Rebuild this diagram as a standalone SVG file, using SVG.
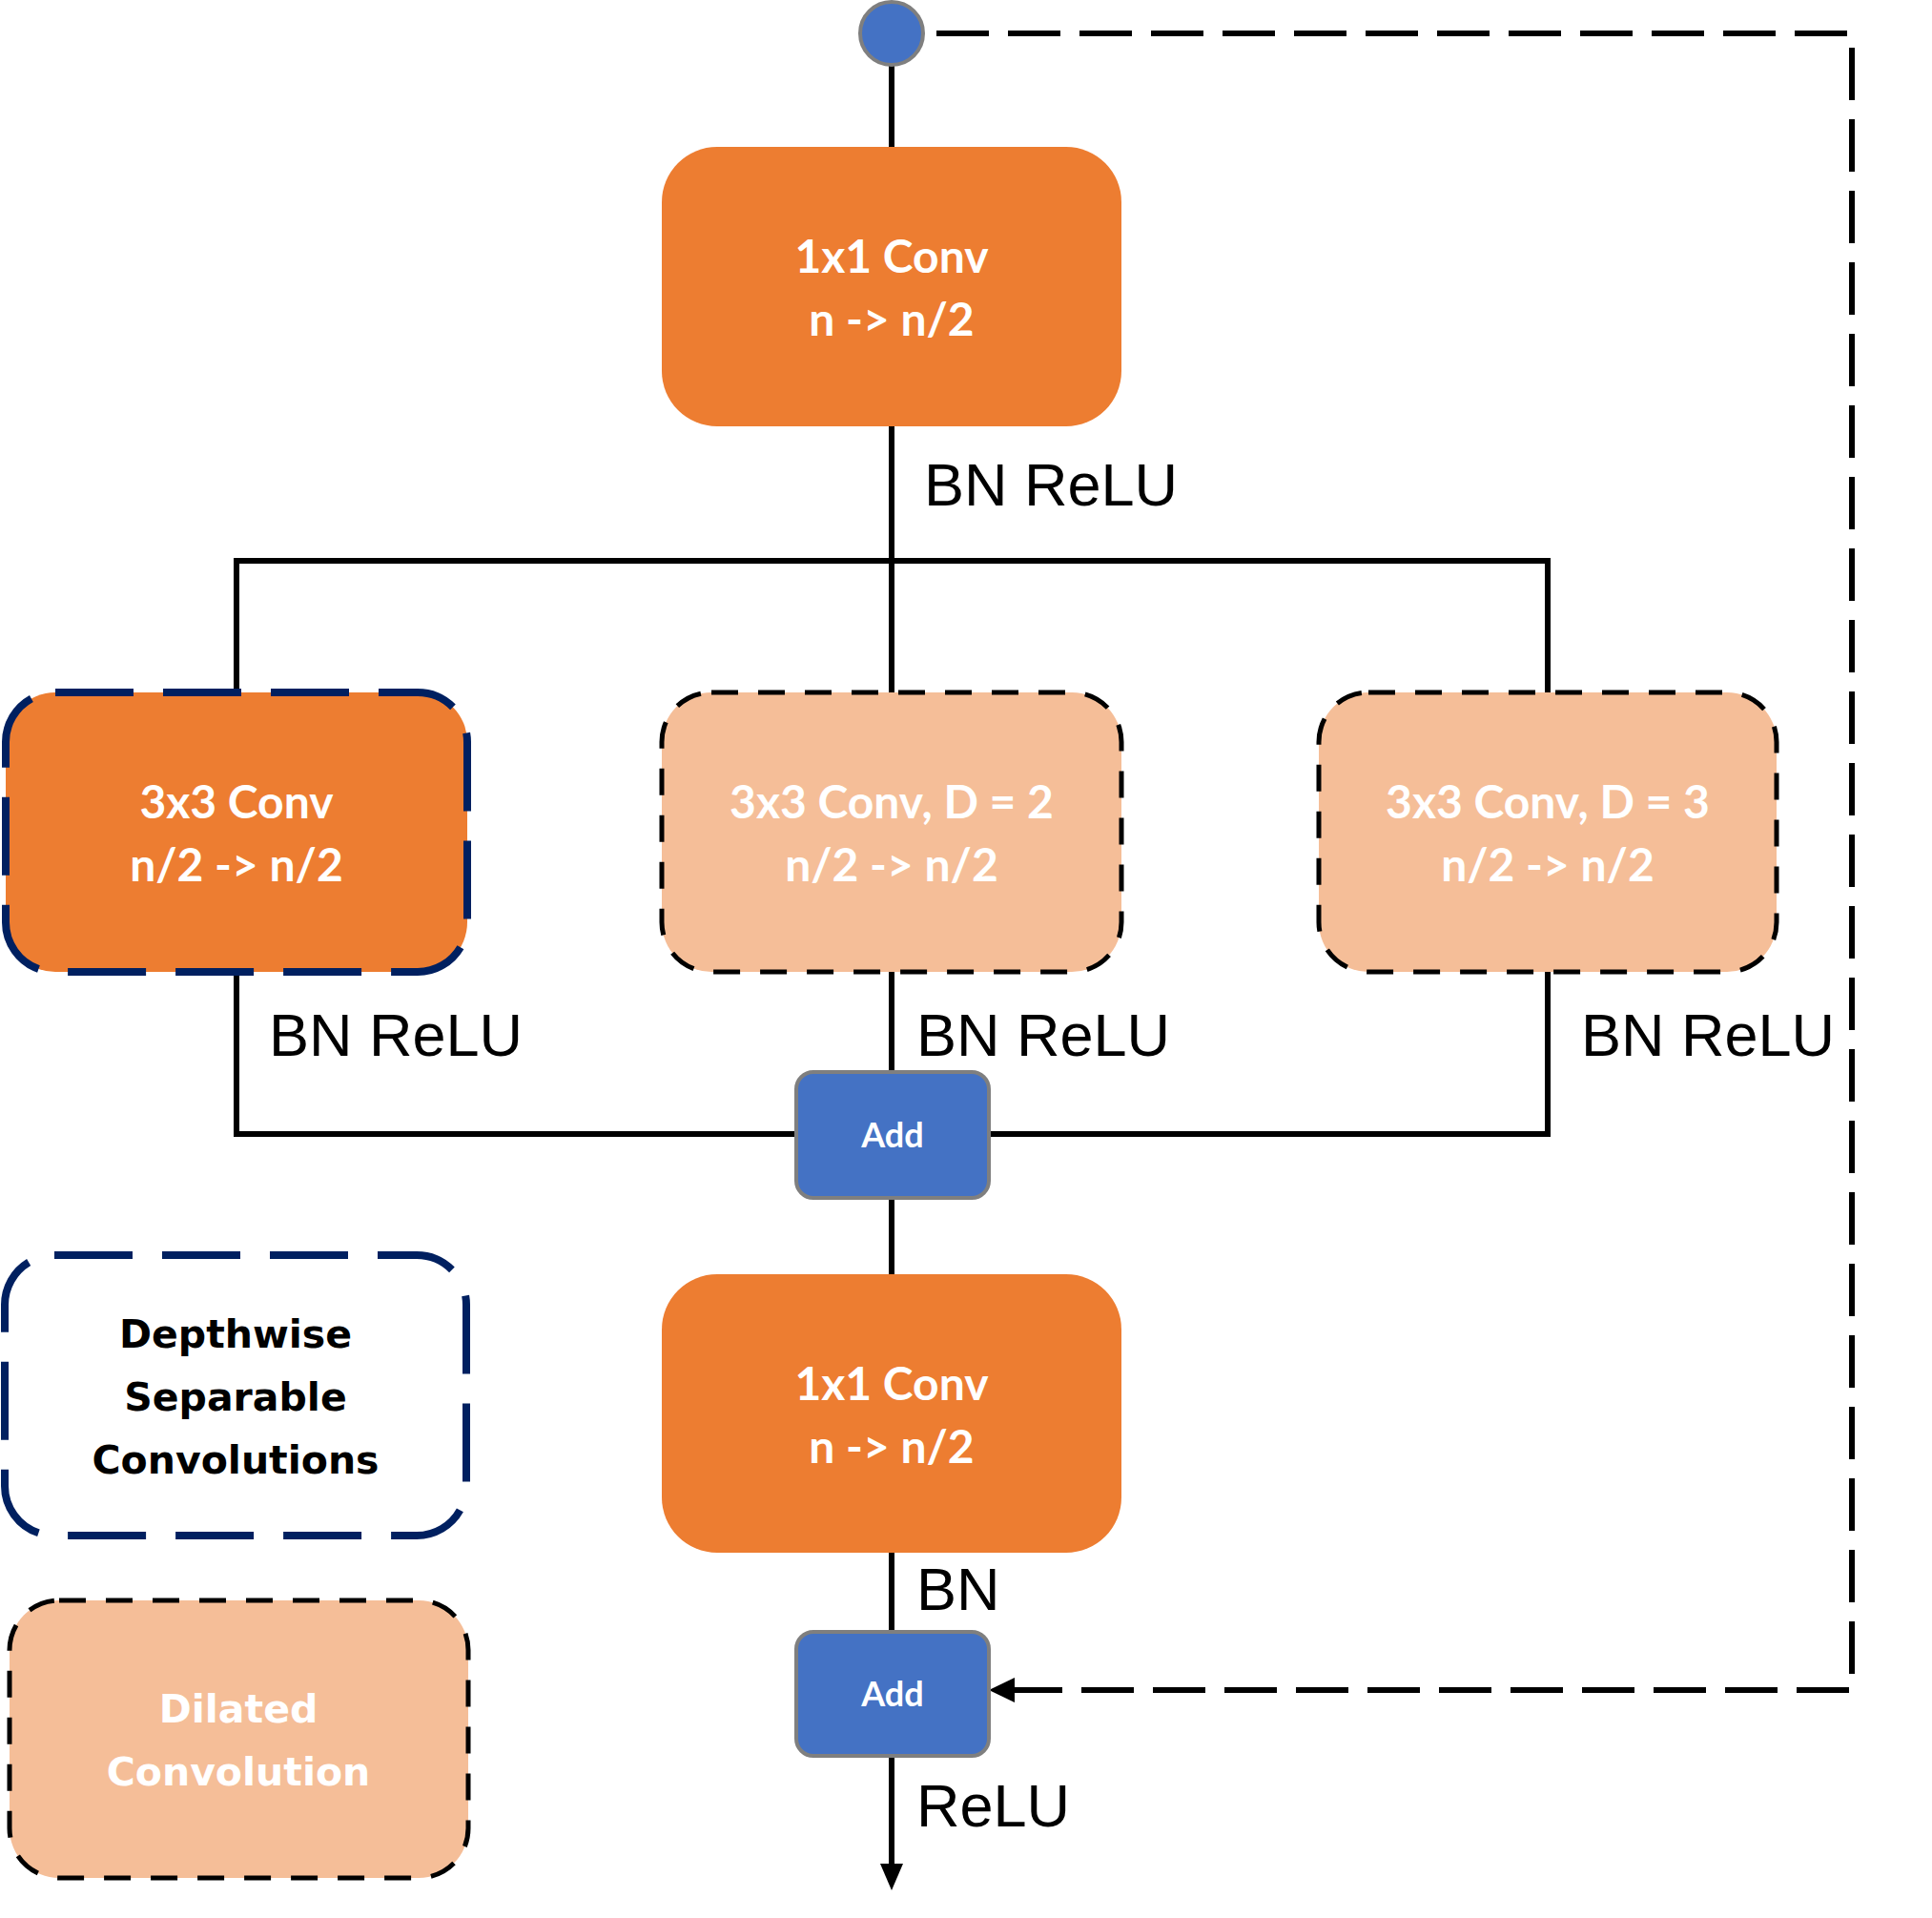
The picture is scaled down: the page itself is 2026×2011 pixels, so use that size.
<svg xmlns="http://www.w3.org/2000/svg" width="2026" height="2011" viewBox="0 0 2026 2011">
<style>
.orange{fill:#ED7D31;}
.peach{fill:#F5BE98;stroke:#000;stroke-width:5;stroke-dasharray:28 21;}
.dw{stroke:#002060;stroke-width:8;stroke-dasharray:82 31;}
.add{fill:#4472C4;stroke:#7F7F7F;stroke-width:4;}
.wt{font-family:Lato,"Open Sans",sans-serif;font-weight:700;font-size:48px;fill:#fff;text-anchor:middle;}
.addt{font-family:Lato,"Open Sans",sans-serif;font-weight:700;font-size:36px;fill:#fff;text-anchor:middle;}
.lbl{font-family:"Liberation Sans",Arial,sans-serif;font-size:63px;fill:#000;}
.leg{font-family:"DejaVu Sans",Verdana,sans-serif;font-weight:700;font-size:41px;text-anchor:middle;}
.ln{fill:none;stroke:#000;stroke-width:6;}
.skip{fill:none;stroke:#000;stroke-width:6;stroke-dasharray:55 20;}
</style>
<g id="connectors">
<line class="ln" x1="935" y1="68" x2="935" y2="154"/>
<polyline class="ln" points="935,447 935,588"/>
<polyline class="ln" points="248,726 248,588 1623,588 1623,726"/>
<line class="ln" x1="935" y1="588" x2="935" y2="726"/>
<polyline class="ln" points="248,1019 248,1189 835,1189"/>
<polyline class="ln" points="1623,1019 1623,1189 1037,1189"/>
<line class="ln" x1="935" y1="1019" x2="935" y2="1124"/>
<line class="ln" x1="935" y1="1256" x2="935" y2="1336"/>
<line class="ln" x1="935" y1="1628" x2="935" y2="1711"/>
<line class="ln" x1="935" y1="1841" x2="935" y2="1960"/>
<path d="M935,1982 L923,1954 L947,1954 z" fill="#000"/>
<polyline class="skip" points="982,35 1942,35 1942,1772 1062,1772"/>
<path d="M1037,1772 L1064,1759 L1064,1785 z" fill="#000"/>
<text class="lbl" x="969" y="530">BN ReLU</text>
<text class="lbl" x="282" y="1107">BN ReLU</text>
<text class="lbl" x="961" y="1107">BN ReLU</text>
<text class="lbl" x="1658" y="1107">BN ReLU</text>
<text class="lbl" x="961" y="1688">BN</text>
<text class="lbl" x="961" y="1915">ReLU</text>
</g>
<g id="input">
<ellipse cx="935" cy="35" rx="33" ry="33" fill="#4472C4" stroke="#7F7F7F" stroke-width="4"/>
</g>
<g id="conv1">
<rect class="orange" x="694" y="154" width="482" height="293" rx="58"/>
<text class="wt" x="935" y="286">1x1 Conv</text>
<text class="wt" x="935" y="352">n -&gt; n/2</text>
</g>
<g id="conv3x3">
<rect class="orange dw" x="6" y="726" width="484" height="293" rx="52"/>
<text class="wt" x="248" y="858">3x3 Conv</text>
<text class="wt" x="248" y="924">n/2 -&gt; n/2</text>
</g>
<g id="conv_d2">
<rect class="peach" x="694" y="726" width="482" height="293" rx="52"/>
<text class="wt" x="935" y="858">3x3 Conv, D = 2</text>
<text class="wt" x="935" y="924">n/2 -&gt; n/2</text>
</g>
<g id="conv_d3">
<rect class="peach" x="1383" y="726" width="480" height="293" rx="52"/>
<text class="wt" x="1623" y="858">3x3 Conv, D = 3</text>
<text class="wt" x="1623" y="924">n/2 -&gt; n/2</text>
</g>
<g id="add1">
<rect class="add" x="835" y="1124" width="202" height="132" rx="18"/>
<text class="addt" x="936" y="1203">Add</text>
</g>
<g id="conv2">
<rect class="orange" x="694" y="1336" width="482" height="292" rx="58"/>
<text class="wt" x="935" y="1468">1x1 Conv</text>
<text class="wt" x="935" y="1534">n -&gt; n/2</text>
</g>
<g id="add2">
<rect class="add" x="835" y="1711" width="202" height="130" rx="18"/>
<text class="addt" x="936" y="1789">Add</text>
</g>
<g id="legend_dw">
<rect class="dw" x="5" y="1316" width="484" height="294" rx="52" fill="#fff"/>
<text class="leg" x="247" y="1413" fill="#000">Depthwise</text>
<text class="leg" x="247" y="1479" fill="#000">Separable</text>
<text class="leg" x="247" y="1545" fill="#000">Convolutions</text>
</g>
<g id="legend_dil">
<rect class="peach" x="10" y="1678" width="481" height="291" rx="52"/>
<text class="leg" x="250" y="1806" fill="#fff">Dilated</text>
<text class="leg" x="250" y="1872" fill="#fff">Convolution</text>
</g>
</svg>
